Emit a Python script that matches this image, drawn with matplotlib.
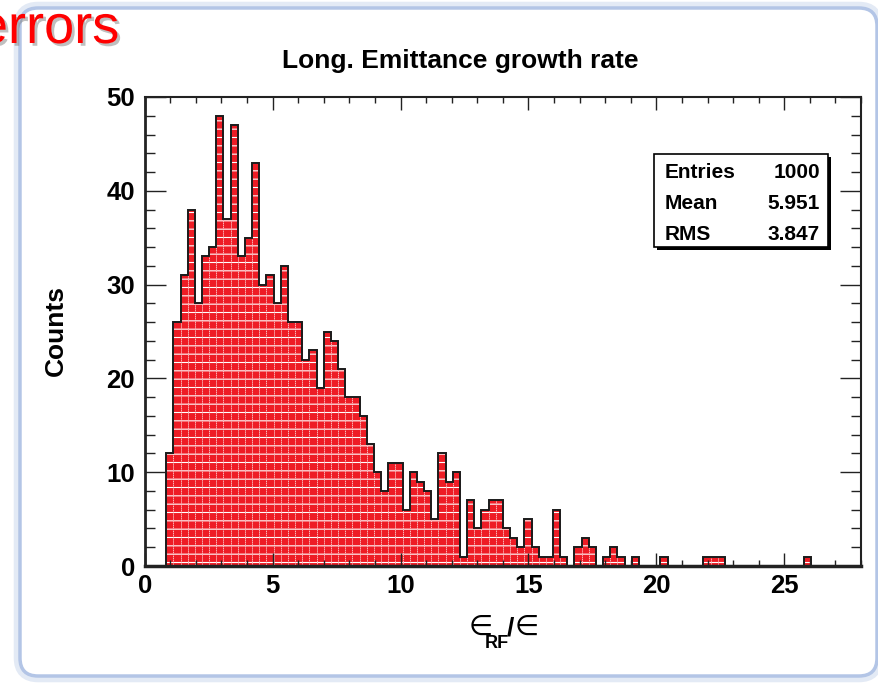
import numpy as np
import matplotlib.pyplot as plt
from matplotlib.patches import FancyBboxPatch
from matplotlib.ticker import MultipleLocator
from matplotlib.transforms import IdentityTransform
import matplotlib.patheffects as pe

plt.rcParams['font.family'] = ['Liberation Sans', 'DejaVu Sans']
plt.rcParams['hatch.color'] = 'white'
plt.rcParams['hatch.linewidth'] = 0.8

W, H = 879, 683

# histogram: 100 bins between 0 and 28
x_lo, x_hi, n_bins = 0.0, 28.0, 100
counts = [0, 0, 0,
          12, 26, 31, 38, 28, 33, 34, 48, 37, 47, 33, 35, 43, 30, 31, 28, 32, 26, 26, 22, 23, 19, 25, 24, 21,
          18, 18, 16, 13, 10, 8, 11, 11, 6, 10, 9, 8, 5, 12, 9, 10, 1, 7, 4, 6, 7, 7, 4, 3, 2, 5,
          2, 1, 1, 6, 1, 0, 2, 3, 2, 0, 1, 2, 1, 0, 1, 0, 0,
          0, 1, 0, 0, 0, 0, 0, 1, 1, 1,
          0, 0, 0, 0, 0, 0, 0, 0, 0, 0, 0, 1,
          0, 0, 0, 0, 0, 0, 0]
edges = np.linspace(x_lo, x_hi, n_bins + 1)

stats_names = ['Entries', 'Mean', 'RMS']
stats_values = ['1000', '5.951', '3.847']


def fx(px):
    return px / W


def fy(py):
    return 1 - py / H


def pix_box(x0, y0, x1, y1, **kw):
    # box in image pixels (y downwards)
    p = FancyBboxPatch((x0, H - y1), x1 - x0, y1 - y0, **kw)
    p.set_transform(IdentityTransform())
    return p


fig = plt.figure(figsize=(W / 100, H / 100), dpi=100)

# slide frame, kept behind the axes
fig.patches.append(pix_box(20, 8, 877, 676, boxstyle='round,pad=0,rounding_size=18',
                           facecolor='none', edgecolor='#e3eaf5', linewidth=9, zorder=-10))
fig.patches.append(pix_box(20, 8, 877, 676, boxstyle='round,pad=0,rounding_size=18',
                           facecolor='white', edgecolor='#b3c5e6', linewidth=2.5, zorder=-9))

fig.text(fx(119), fy(43), 'errors', color='#ff0000', fontsize=39, ha='right', va='baseline',
         path_effects=[pe.withSimplePatchShadow(offset=(2, -2), shadow_rgbFace='gray', alpha=0.5)])

ax = fig.add_axes([fx(144.7), fy(566), (861 - 144.7) / W, (566 - 97) / H])

ax.bar(edges[:-1], counts, width=np.diff(edges), align='edge', color='#ee1c25',
       edgecolor='white', linewidth=0.5, linestyle=(0, (1, 2)), hatch='--')
ax.stairs(counts, edges, color='#1a1a1a', linewidth=1.4, baseline=0)

ax.set_xlim(x_lo, x_hi)
ax.set_ylim(0, 50)
ax.xaxis.set_major_locator(MultipleLocator(5))
ax.xaxis.set_minor_locator(MultipleLocator(1))
ax.yaxis.set_major_locator(MultipleLocator(10))
ax.yaxis.set_minor_locator(MultipleLocator(2))
ax.tick_params(which='both', direction='in', top=True, right=True, width=1, color='#222222',
               labelsize=18.5)
ax.tick_params(axis='x', which='major', length=9.5, pad=6)
ax.tick_params(axis='x', which='minor', length=4.5)
ax.tick_params(axis='y', which='major', length=15, pad=7)
ax.tick_params(axis='y', which='minor', length=7.5)
for lab in ax.get_xticklabels() + ax.get_yticklabels():
    lab.set_fontweight('bold')
for s in ax.spines.values():
    s.set_linewidth(1.5)
    s.set_color('#222222')
ax.spines['left'].set_linewidth(2)
ax.spines['bottom'].set_linewidth(2.5)

fig.text(fx(460), fy(68), 'Long. Emittance growth rate', fontsize=19, fontweight='bold',
         ha='center', va='baseline')
fig.text(fx(56), fy(330), 'Counts', fontsize=19, fontweight='bold', rotation=90,
         ha='center', va='center')

# x label  eps_RF / eps
fig.text(fx(469), fy(635), '\u2208', fontsize=20, family='DejaVu Sans', ha='left', va='baseline')
fig.text(fx(485), fy(648), 'RF', fontsize=13, fontweight='bold', ha='left', va='baseline')
fig.text(fx(507), fy(635), '/', fontsize=19, fontweight='bold', ha='left', va='baseline')
fig.text(fx(515), fy(635), '\u2208', fontsize=20, family='DejaVu Sans', ha='left', va='baseline')

# stats box with drop shadow
fig.patches.append(pix_box(657, 157, 831, 250, boxstyle='square,pad=0', facecolor='black',
                           edgecolor='black', linewidth=0))
fig.patches.append(pix_box(654, 154, 828, 247, boxstyle='square,pad=0', facecolor='white',
                           edgecolor='black', linewidth=1.2))
for i in range(len(stats_names)):
    yb = 178 + i * 31
    fig.text(fx(665), fy(yb), stats_names[i], fontsize=15, fontweight='bold', va='baseline')
    fig.text(fx(820), fy(yb), stats_values[i], fontsize=15, fontweight='bold', va='baseline',
             ha='right')

fig.savefig('out.png', dpi=100)
